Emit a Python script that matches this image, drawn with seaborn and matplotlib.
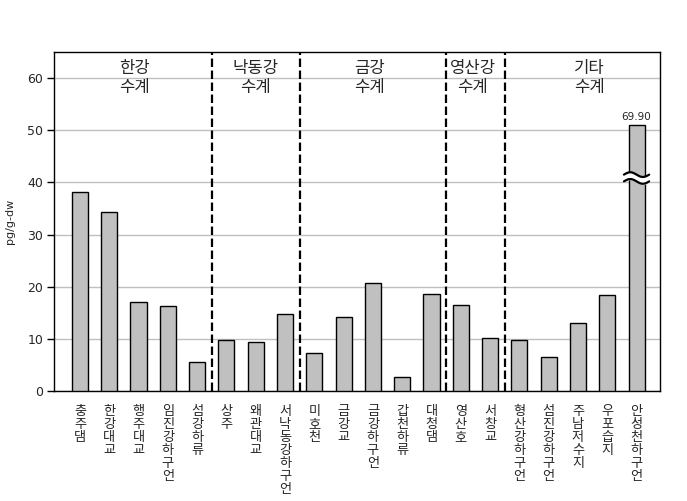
import numpy as np
import pandas as pd
import matplotlib
matplotlib.use("Agg")
import matplotlib.pyplot as plt
import seaborn as sns

# ---- data ----
sites = ["충주댐", "한강대교", "행주대교", "임진강하구언", "섬강하류",
         "상주", "왜관대교", "서낙동강하구언",
         "미호천", "금강교", "금강하구언", "갑천하류", "대청댐",
         "영산호", "서창교",
         "형산강하구언", "섬진강하구언", "주남저수지", "우포습지", "안성천하구언"]
values = [38.1, 34.3, 17.0, 16.3, 5.5,
          9.7, 9.3, 14.7,
          7.2, 14.1, 20.7, 2.6, 18.6,
          16.4, 10.1,
          9.7, 6.5, 13.0, 18.4, 69.90]
group_names = ["한강\n수계", "낙동강\n수계", "금강\n수계", "영산강\n수계", "기타\n수계"]
group_sizes = [5, 3, 5, 2, 5]
y_label = "pg/g-dw"
y_ticks = [0, 10, 20, 30, 40, 50, 60]

# ---- layout / style constants ----
BREAK_TOP = 51.0        # displayed height of the broken bar
BREAK_Y = 40.85         # where the break symbol sits
group_label_x = [1.85, 6.0, 9.9, 13.4, 17.4]

sns.set_theme(style="white")
plt.rcParams['font.family'] = ['Noto Sans CJK KR', 'DejaVu Sans']

disp = [min(v, BREAK_TOP) for v in values]
df = pd.DataFrame({"site": sites, "value": disp})

fig = plt.figure(figsize=(6.87, 5.01), dpi=100)
ax = fig.add_axes([0.0793, 0.2196, 0.9607 - 0.0793, 0.896 - 0.2196])

sns.barplot(data=df, x="site", y="value", order=sites, color="#c0c0c0",
            edgecolor="black", linewidth=1.0, width=0.55, saturation=1,
            ax=ax, zorder=3)

ax.set_xlim(-0.87, 19.8)
ax.set_ylim(0, 65)
ax.set_yticks(y_ticks)
ax.set_yticklabels([str(t) for t in y_ticks], fontsize=9, family=['DejaVu Sans'])
ax.yaxis.grid(True, color="#c0c0c0", linewidth=1.0, zorder=0)
ax.set_axisbelow(True)
ax.tick_params(axis='y', which='both', left=True, length=5, width=1, color='black', pad=3)
ax.tick_params(axis='x', bottom=False, pad=4)

ax.set_xticks(range(len(sites)))
ax.set_xticklabels(["\n".join(s) for s in sites], fontsize=9.5,
                   linespacing=1.0, va='top')
ax.set_xlabel("")
ax.set_ylabel(y_label, fontsize=8, labelpad=9, family=['DejaVu Sans'])

for sp in ax.spines.values():
    sp.set_visible(True)
    sp.set_color("black")
    sp.set_linewidth(1.0)

# group separators
bounds = np.cumsum(group_sizes)[:-1] - 0.5
for b in bounds:
    ax.axvline(b, color="black", linewidth=1.6, linestyle=(0, (3.8, 1.6)), zorder=4)

# group labels
for gx, name in zip(group_label_x, group_names):
    ax.text(gx, 60.0, name, ha='center', va='center', fontsize=12,
            linespacing=1.2, zorder=5)

# broken bar label and break symbol
idx = len(values) - 1
ax.text(idx, BREAK_TOP + 1.6, f"{values[idx]:.2f}", ha='center', va='center',
        fontsize=7.5, family=['DejaVu Sans'], zorder=5)
t = np.linspace(0, 1, 60)
xs = idx - 0.43 + 0.86 * t
wave = 0.45 * np.sin(2 * np.pi * t)
y_up = BREAK_Y + 0.65 + wave
y_lo = BREAK_Y - 0.65 + wave
ax.fill_between(xs, y_lo, y_up, color="white", zorder=6)
ax.plot(xs, y_up, color="black", linewidth=1.6, zorder=7)
ax.plot(xs, y_lo, color="black", linewidth=1.6, zorder=7)

fig.savefig("out.png", dpi=100)
